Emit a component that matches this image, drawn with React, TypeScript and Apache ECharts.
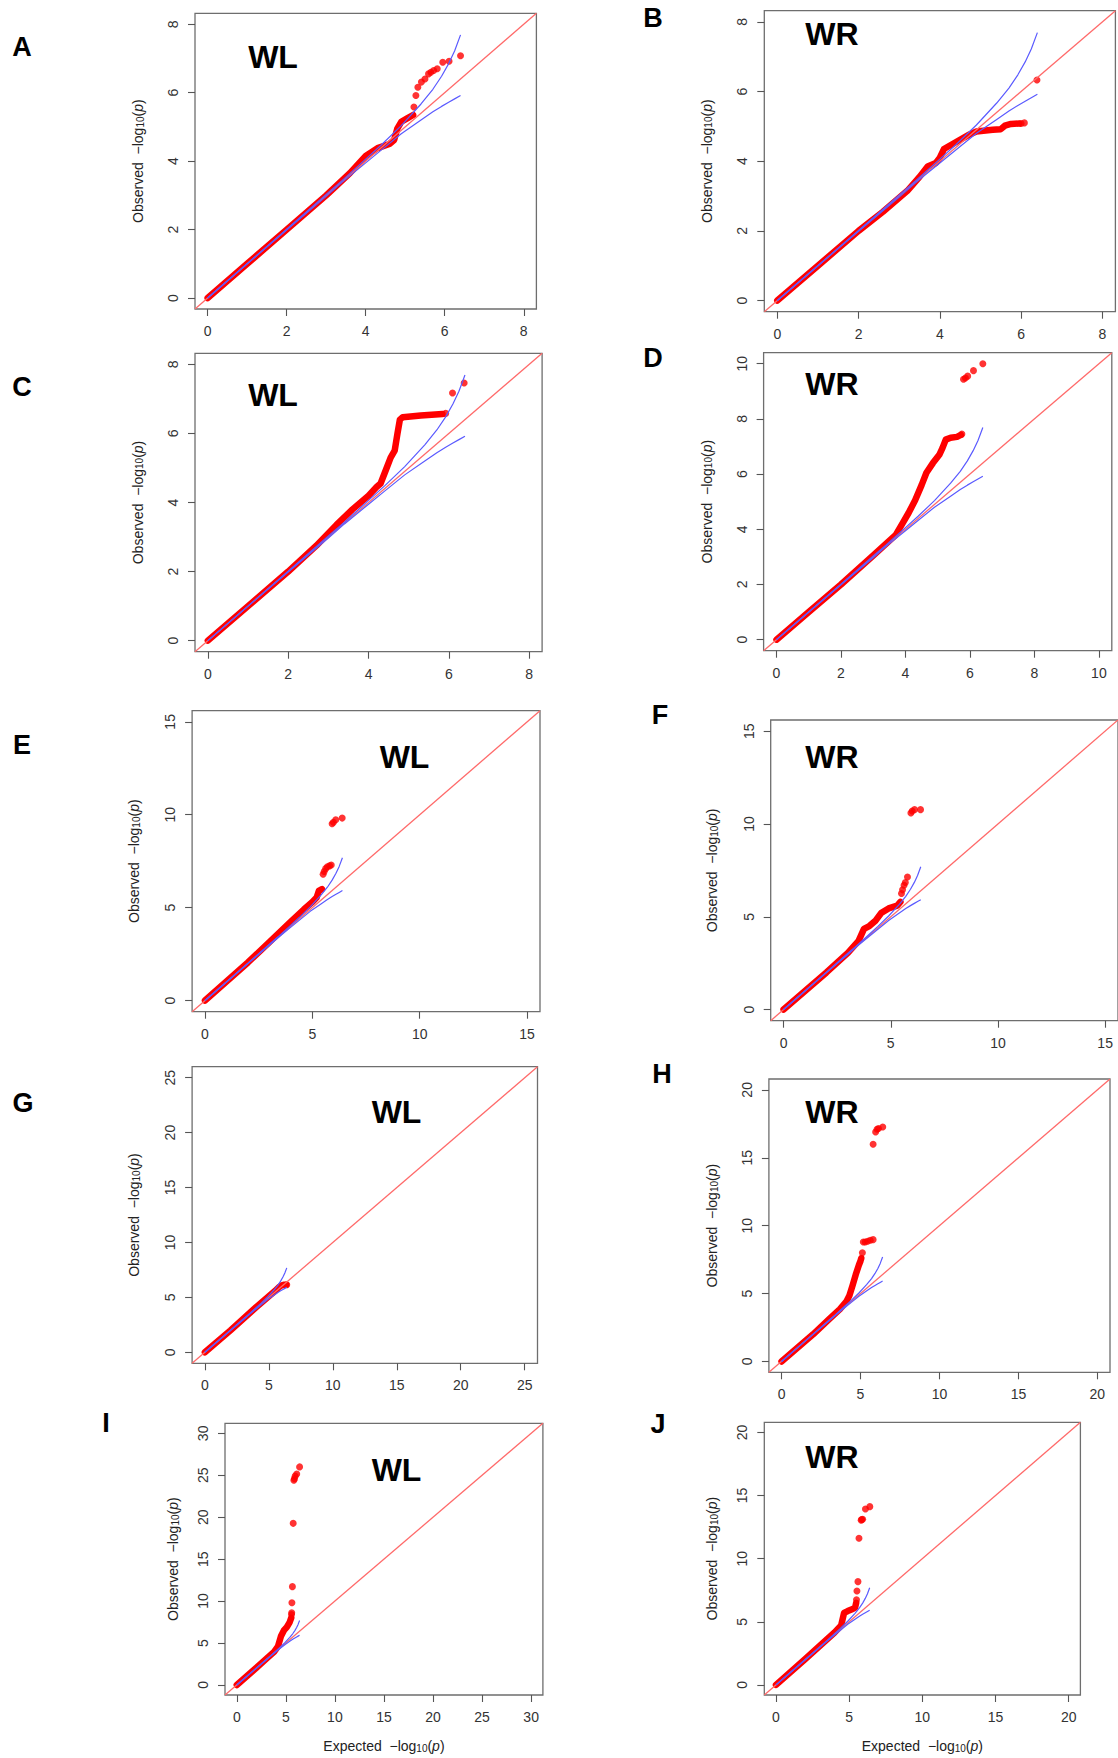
import React, { useEffect, useRef } from "react";
import * as echarts from "echarts";

// ---------- data (expected -log10 p, observed -log10 p) ----------
const panelLetters = ["A", "B", "C", "D", "E", "F", "G", "H", "I", "J"];
const panelTags = ["WL", "WR", "WL", "WR", "WL", "WR", "WL", "WR", "WL", "WR"];
const axisLimits = [8, 8, 8, 10, 15, 15, 25, 20, 30, 20];

const ticks8 = [0, 2, 4, 6, 8];
const ticks10 = [0, 2, 4, 6, 8, 10];
const ticks15 = [0, 5, 10, 15];
const ticks20 = [0, 5, 10, 15, 20];
const ticks25 = [0, 5, 10, 15, 20, 25];
const ticks30 = [0, 5, 10, 15, 20, 25, 30];
const panelTicks = [ticks8, ticks8, ticks8, ticks10, ticks15, ticks15, ticks25, ticks20, ticks30, ticks20];

// 90% confidence band (same SNP count in every panel)
const bandUpper = [[0, 0], [1, 1.0], [2, 2.01], [3, 3.03], [3.4, 3.43], [4, 4.06], [4.4, 4.48], [4.9, 5.04], [5.4, 5.67], [5.7, 6.1], [5.92, 6.48], [6.1, 6.85], [6.25, 7.22], [6.4, 7.69]];
const bandLower = [[0, 0], [1, 1.0], [2, 1.99], [3, 2.97], [3.4, 3.38], [4, 3.95], [4.4, 4.33], [4.9, 4.8], [5.4, 5.2], [5.7, 5.44], [5.92, 5.6], [6.1, 5.72], [6.25, 5.82], [6.4, 5.92]];

// dense part of the point cloud
const denseA = [[0, 0], [1, 1], [2, 2], [3, 3], [3.6, 3.65], [4, 4.15], [4.3, 4.38], [4.6, 4.5], [4.72, 4.62], [4.8, 4.95], [4.9, 5.15], [5.05, 5.25], [5.2, 5.35]];
const tailA = [[5.22, 5.58], [5.27, 5.92], [5.32, 6.16], [5.41, 6.31], [5.5, 6.4], [5.59, 6.55], [5.65, 6.6], [5.72, 6.65], [5.81, 6.7], [5.95, 6.89], [6.11, 6.92], [6.4, 7.08]];

const denseB = [[0, 0], [1, 1], [2, 2], [2.6, 2.55], [3.2, 3.15], [3.5, 3.55], [3.7, 3.85], [3.9, 3.95], [4.0, 4.1], [4.1, 4.35], [4.4, 4.55], [4.7, 4.75], [4.9, 4.85], [5.3, 4.9], [5.5, 4.92], [5.6, 5.02], [5.75, 5.07], [5.95, 5.08]];
const tailB = [[6.0, 5.08], [6.08, 5.1], [6.39, 6.33]];

const denseC = [[0, 0], [1, 1], [2, 2], [2.7, 2.75], [3.2, 3.35], [3.6, 3.8], [4.0, 4.2], [4.2, 4.45], [4.3, 4.55], [4.45, 5.0], [4.55, 5.3], [4.65, 5.5], [4.72, 6.0], [4.78, 6.4], [4.85, 6.47], [5.3, 6.52], [5.84, 6.56]];
const tailC = [[5.92, 6.58], [6.09, 7.17], [6.38, 7.46]];

const denseD = [[0, 0], [1, 1], [2, 2], [3, 3.05], [3.7, 3.8], [3.9, 4.2], [4.1, 4.6], [4.3, 5.05], [4.5, 5.6], [4.65, 6.05], [4.85, 6.4], [5.05, 6.7], [5.15, 6.95], [5.25, 7.25], [5.4, 7.32], [5.6, 7.35], [5.72, 7.42]];
const tailD = [[5.75, 7.45], [5.8, 9.44], [5.86, 9.48], [5.93, 9.55], [6.11, 9.75], [6.4, 10.0]];

const denseE = [[0, 0], [2, 2.05], [3, 3.15], [4, 4.25], [4.6, 4.9], [5.0, 5.3], [5.2, 5.55], [5.3, 5.9], [5.45, 6.0]];
const tailE = [[5.5, 6.8], [5.55, 6.95], [5.62, 7.1], [5.7, 7.2], [5.8, 7.25], [5.88, 7.3], [5.92, 9.52], [5.98, 9.6], [6.09, 9.73], [6.39, 9.82]];

const denseF = [[0, 0], [2, 2], [3, 3.05], [3.5, 3.7], [3.75, 4.35], [4.0, 4.5], [4.3, 4.8], [4.55, 5.2], [4.9, 5.45], [5.3, 5.6], [5.45, 5.8]];
const tailF = [[5.5, 6.25], [5.55, 6.45], [5.62, 6.7], [5.68, 6.85], [5.78, 7.14], [5.94, 10.59], [6.0, 10.7], [6.11, 10.77], [6.39, 10.77]];

const denseG = [[0, 0], [2, 2], [4, 4.1], [5, 5.1], [5.5, 5.6], [5.8, 5.95], [6.0, 6.1], [6.2, 6.15], [6.35, 6.15]];
const tailG = [[6.4, 6.15]];

const denseH = [[0, 0], [2, 2], [3, 3.1], [3.7, 3.85], [4.1, 4.4], [4.3, 4.85], [4.5, 5.6], [4.7, 6.4], [4.9, 7.1], [5.0, 7.4], [5.05, 7.6]];
const tailH = [[5.12, 8.0], [5.18, 8.8], [5.3, 8.8], [5.45, 8.85], [5.62, 8.92], [5.8, 8.97], [5.8, 16.0], [5.96, 16.9], [6.05, 17.1], [6.14, 17.15], [6.41, 17.27]];

const denseI = [[0, 0], [2, 2.05], [3, 3.1], [3.8, 3.95], [4.2, 4.6], [4.5, 5.8], [4.8, 6.5], [5.1, 6.9], [5.4, 7.5], [5.55, 8.0]];
const tailI = [[5.58, 8.4], [5.6, 8.6], [5.62, 9.8], [5.67, 11.72], [5.75, 19.27], [5.82, 24.4], [5.88, 24.6], [5.95, 24.9], [6.11, 25.15], [6.4, 26.0]];

const denseJ = [[0, 0], [2, 2.05], [3, 3.1], [4, 4.15], [4.45, 4.7], [4.55, 5.2], [4.65, 5.7], [4.9, 5.85], [5.2, 6.0], [5.4, 6.1], [5.48, 6.5]];
const tailJ = [[5.5, 6.75], [5.53, 7.44], [5.6, 8.18], [5.67, 11.61], [5.82, 13.05], [5.86, 13.1], [5.92, 13.12], [6.11, 13.93], [6.41, 14.12]];

const denseAll = [denseA, denseB, denseC, denseD, denseE, denseF, denseG, denseH, denseI, denseJ];
const tailAll = [tailA, tailB, tailC, tailD, tailE, tailF, tailG, tailH, tailI, tailJ];

// ---------- layout ----------
const gridBoxes = [
  [195, 13.3, 341.4, 295.7],
  [764.3, 10.7, 351.1, 301],
  [195, 353.3, 347.1, 298.4],
  [763.6, 352.7, 348.2, 298],
  [192.1, 710.7, 347.9, 301],
  [770.7, 720, 349.4, 300.7],
  [192.1, 1066.7, 345.4, 296.6],
  [768.9, 1079, 341.1, 293.3],
  [225, 1423.3, 317.9, 271.7],
  [764.3, 1422.3, 316.1, 272.7],
];
const letterPos = [[22, 47], [653, 17.5], [22, 387], [653, 357.5], [22, 745], [660, 715], [23, 1103], [662, 1073.5], [106, 1422.5], [658, 1423.5]];
const tagPos = [[273, 57], [832, 34], [273, 395], [832, 383.5], [404.5, 757], [832, 757], [396.5, 1112], [832, 1112], [396.5, 1470], [832, 1457]];
const yTitleX = [136.4, 704.6, 135.7, 704.6, 132.1, 710, 132.1, 710, 171.4, 710];

const FONT = '"Liberation Sans", Arial, Helvetica, sans-serif';

function titleRich(word: string) {
  return {
    text: `{b|${word}  −log}{s|10}{b|(}{i|p}{b|)}`,
    rich: {
      b: { fontSize: 14, lineHeight: 18, fontFamily: FONT, fill: "#222", verticalAlign: "bottom" },
      s: { fontSize: 10, lineHeight: 11, fontFamily: FONT, fill: "#222", verticalAlign: "bottom" },
      i: { fontSize: 14, lineHeight: 18, fontFamily: FONT, fill: "#222", fontStyle: "italic", verticalAlign: "bottom" },
    },
  };
}

function buildOption() {
  const grid: any[] = [];
  const xAxis: any[] = [];
  const yAxis: any[] = [];
  const series: any[] = [];
  const graphic: any[] = [];

  for (let i = 0; i < 10; i++) {
    const [l, t, w, h] = gridBoxes[i];
    const L = axisLimits[i];
    const lo = -0.04 * L;
    const hi = 1.04 * L;
    grid.push({ left: l, top: t, width: w, height: h, show: true, borderColor: "#6e6e6e", borderWidth: 1.3, backgroundColor: "transparent" });
    const common = {
      type: "value",
      gridIndex: i,
      min: lo,
      max: hi,
      splitLine: { show: false },
      axisLine: { show: false, onZero: false },
      axisTick: { show: true, customValues: panelTicks[i], length: 7, lineStyle: { color: "#555", width: 1.1 } },
    };
    xAxis.push({
      ...common,
      axisLabel: { show: true, customValues: panelTicks[i], margin: 15, fontSize: 14, color: "#333", fontFamily: FONT },
    });
    yAxis.push({
      ...common,
      axisLabel: { show: true, customValues: panelTicks[i], margin: 15, fontSize: 14, color: "#333", fontFamily: FONT, rotate: 90 },
    });

    series.push({
      type: "line", xAxisIndex: i, yAxisIndex: i, data: denseAll[i], showSymbol: false, silent: true, z: 2,
      lineStyle: { color: "#ff0000", width: 6.5, cap: "round", join: "round" },
    });
    series.push({
      type: "scatter", xAxisIndex: i, yAxisIndex: i, data: tailAll[i], symbolSize: 7, silent: true, z: 2,
      itemStyle: { color: "#ff0000" },
    });
    series.push({
      type: "line", xAxisIndex: i, yAxisIndex: i, data: [[lo, lo], [hi, hi]], showSymbol: false, silent: true, z: 3,
      lineStyle: { color: "#ff6a6a", width: 1.3 },
    });
    series.push({
      type: "line", xAxisIndex: i, yAxisIndex: i, data: bandUpper, showSymbol: false, silent: true, z: 4,
      lineStyle: { color: "#5a5aff", width: 1.2 },
    });
    series.push({
      type: "line", xAxisIndex: i, yAxisIndex: i, data: bandLower, showSymbol: false, silent: true, z: 4,
      lineStyle: { color: "#5a5aff", width: 1.2 },
    });

    graphic.push({
      type: "text", x: letterPos[i][0], y: letterPos[i][1],
      style: { text: panelLetters[i], fontSize: 27, fontWeight: "bold", fontFamily: FONT, fill: "#000", align: "center", verticalAlign: "middle" },
    });
    graphic.push({
      type: "text", x: tagPos[i][0], y: tagPos[i][1],
      style: { text: panelTags[i], fontSize: 32, fontWeight: "bold", fontFamily: FONT, fill: "#000", align: "center", verticalAlign: "middle" },
    });
    graphic.push({
      type: "text", x: yTitleX[i], y: t + h / 2, rotation: Math.PI / 2,
      style: { ...titleRich("Observed"), align: "center", verticalAlign: "middle" },
    });
    if (i >= 8) {
      graphic.push({
        type: "text", x: l + w / 2, y: 1744,
        style: { ...titleRich("Expected"), align: "center", verticalAlign: "middle" },
      });
    }
  }

  return { animation: false, backgroundColor: "#ffffff", grid, xAxis, yAxis, series, graphic };
}

export default function App() {
  const ref = useRef<HTMLDivElement>(null);
  useEffect(() => {
    if (!ref.current) return;
    const chart = echarts.init(ref.current, null, { renderer: "svg" });
    chart.setOption(buildOption() as any);
    return () => chart.dispose();
  }, []);
  return <div ref={ref} style={{ position: "absolute", left: 0, top: 0, width: 1118, height: 1758, background: "#fff" }} />;
}
